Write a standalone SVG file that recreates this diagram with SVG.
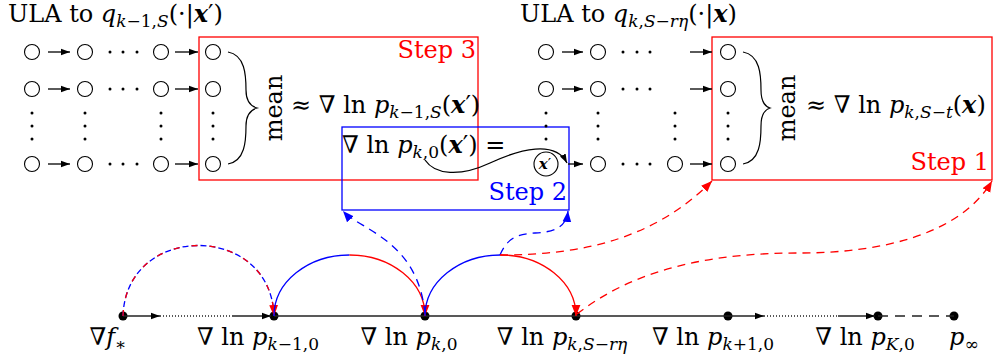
<svg xmlns="http://www.w3.org/2000/svg" width="997" height="360" viewBox="0 0 997 360">
<defs>
<style>
text{font-family:"DejaVu Serif","Liberation Serif",serif;font-size:24px;fill:#000}
.i{font-style:italic}
.b{font-style:italic;font-weight:bold}
.s{font-size:17px}
.nd{fill:#fff;stroke:#000;stroke-width:1.1}
.dt{fill:#000}
.ga{stroke:#000;stroke-width:1.3;fill:none;marker-end:url(#ak)}
.rt{fill:#f00}
.bt{fill:#00f}
.ax{stroke:#222;stroke-width:1.4;fill:none}
.rd{stroke:#f00;stroke-width:1.3;fill:none}
.bl{stroke:#00f;stroke-width:1.3;fill:none}
.dash{stroke-dasharray:8 6}
</style>
<marker id="ak" viewBox="0 0 10 10" refX="10" refY="5" markerWidth="9" markerHeight="9" markerUnits="userSpaceOnUse" orient="auto"><path d="M0,1.5 L10,5 L0,8.5 z" fill="#000"/></marker>
<marker id="ar" viewBox="0 0 10 10" refX="10" refY="5" markerWidth="11" markerHeight="11" markerUnits="userSpaceOnUse" orient="auto"><path d="M0,1 L10,5 L0,9 z" fill="#f00"/></marker>
<marker id="ab" viewBox="0 0 10 10" refX="10" refY="5" markerWidth="11" markerHeight="11" markerUnits="userSpaceOnUse" orient="auto"><path d="M0,1 L10,5 L0,9 z" fill="#00f"/></marker>
</defs>

<!-- Boxes -->
<g id="step3">
<rect x="199" y="37" width="279" height="143" fill="none" stroke="#f00" stroke-width="1.3"/>
<text x="476" y="58" text-anchor="end" class="rt">Step 3</text>
<text transform="translate(282,108) rotate(-90)" text-anchor="middle">mean</text>
<text x="291" y="113">≈ ∇ ln <tspan class="i">p</tspan><tspan class="s" dy="5"><tspan class="i">k</tspan>−1,<tspan class="i">S</tspan></tspan><tspan dy="-5">(</tspan><tspan class="b">x</tspan>′)</text>
<path d="M228,52 C245,55 246,75 246,90 C246,100 250,106 257,108 C250,110 246,116 246,126 C246,141 245,161 228,164" fill="none" stroke="#000" stroke-width="1.2"/>
</g>

<g id="step2">
<rect x="342" y="127" width="227" height="83" fill="none" stroke="#00f" stroke-width="1.3"/>
<text x="567" y="200" text-anchor="end" class="bt">Step 2</text>
<text x="342" y="153">∇ ln <tspan class="i">p</tspan><tspan class="s" dy="5"><tspan class="i">k</tspan>,0</tspan><tspan dy="-5">(</tspan><tspan class="b">x</tspan>′) =</text>
</g>

<g id="step1">
<rect x="712" y="37" width="280" height="143" fill="none" stroke="#f00" stroke-width="1.3"/>
<text x="989" y="170" text-anchor="end" class="rt">Step 1</text>
<text transform="translate(795,108) rotate(-90)" text-anchor="middle">mean</text>
<text x="806" y="113">≈ ∇ ln <tspan class="i">p</tspan><tspan class="s" dy="5"><tspan class="i">k</tspan>,<tspan class="i">S</tspan>−<tspan class="i">t</tspan></tspan><tspan dy="-5">(</tspan><tspan class="b">x</tspan>)</text>
<path d="M743,52 C760,55 761,75 761,90 C761,100 764,106 770,108 C764,110 761,116 761,126 C761,141 760,161 743,164" fill="none" stroke="#000" stroke-width="1.2"/>
</g>

<!-- Left ULA grid -->
<g id="grid-left">
<text x="8" y="22">ULA to <tspan class="i">q</tspan><tspan class="s" dy="5"><tspan class="i">k</tspan>−1,<tspan class="i">S</tspan></tspan><tspan dy="-5">(·|</tspan><tspan class="b">x</tspan>′)</text>
<g class="nd">
<circle cx="32" cy="52" r="7.5"/><circle cx="85" cy="52" r="7.5"/><circle cx="161" cy="52" r="7.5"/><circle cx="213" cy="52" r="7.5"/>
<circle cx="32" cy="89" r="7.5"/><circle cx="85" cy="89" r="7.5"/><circle cx="161" cy="89" r="7.5"/><circle cx="213" cy="89" r="7.5"/>
<circle cx="32" cy="164" r="7.5"/><circle cx="85" cy="164" r="7.5"/><circle cx="161" cy="164" r="7.5"/><circle cx="213" cy="164" r="7.5"/>
</g>
<g class="dt">
<circle cx="110" cy="52" r="1.5"/><circle cx="123" cy="52" r="1.5"/><circle cx="137" cy="52" r="1.5"/>
<circle cx="110" cy="89" r="1.5"/><circle cx="123" cy="89" r="1.5"/><circle cx="137" cy="89" r="1.5"/>
<circle cx="110" cy="164" r="1.5"/><circle cx="123" cy="164" r="1.5"/><circle cx="137" cy="164" r="1.5"/>
<circle cx="32" cy="113" r="1.5"/><circle cx="32" cy="126" r="1.5"/><circle cx="32" cy="139" r="1.5"/>
<circle cx="85" cy="113" r="1.5"/><circle cx="85" cy="126" r="1.5"/><circle cx="85" cy="139" r="1.5"/>
<circle cx="161" cy="113" r="1.5"/><circle cx="161" cy="126" r="1.5"/><circle cx="161" cy="139" r="1.5"/>
<circle cx="213" cy="113" r="1.5"/><circle cx="213" cy="126" r="1.5"/><circle cx="213" cy="139" r="1.5"/>
</g>
</g>

<!-- Right ULA grid -->
<g id="grid-right">
<text x="520" y="22">ULA to <tspan class="i">q</tspan><tspan class="s" dy="5"><tspan class="i">k</tspan>,<tspan class="i">S</tspan>−<tspan class="i">rη</tspan></tspan><tspan dy="-5">(·|</tspan><tspan class="b">x</tspan>)</text>
<g class="nd">
<circle cx="546" cy="52" r="7.5"/><circle cx="598" cy="52" r="7.5"/><circle cx="728" cy="52" r="7.5"/>
<circle cx="546" cy="89" r="7.5"/><circle cx="598" cy="89" r="7.5"/><circle cx="728" cy="89" r="7.5"/>
<circle cx="546" cy="164" r="12"/><circle cx="598" cy="164" r="7.5"/><circle cx="675" cy="164" r="7.5"/><circle cx="728" cy="164" r="7.5"/>
</g>
<text x="545" y="169" text-anchor="middle" style="font-size:15px"><tspan class="b">x</tspan>′</text>
<g class="dt">
<circle cx="623" cy="52" r="1.5"/><circle cx="637" cy="52" r="1.5"/><circle cx="650" cy="52" r="1.5"/>
<circle cx="623" cy="89" r="1.5"/><circle cx="637" cy="89" r="1.5"/><circle cx="650" cy="89" r="1.5"/>
<circle cx="623" cy="164" r="1.5"/><circle cx="637" cy="164" r="1.5"/><circle cx="650" cy="164" r="1.5"/>
<circle cx="546" cy="113" r="1.5"/><circle cx="546" cy="126" r="1.5"/><circle cx="546" cy="139" r="1.5"/>
<circle cx="598" cy="113" r="1.5"/><circle cx="598" cy="126" r="1.5"/><circle cx="598" cy="139" r="1.5"/>
<circle cx="675" cy="113" r="1.5"/><circle cx="675" cy="126" r="1.5"/><circle cx="675" cy="139" r="1.5"/>
<circle cx="728" cy="113" r="1.5"/><circle cx="728" cy="126" r="1.5"/><circle cx="728" cy="139" r="1.5"/>
</g>
</g>

<!-- Axis nodes -->
<g id="n-fstar"><circle cx="123" cy="316" r="4.5" class="dt"/><text x="108" y="345" text-anchor="middle">∇<tspan class="i">f</tspan><tspan class="s" dy="5">∗</tspan></text></g>
<g id="n-km1"><circle cx="274" cy="316" r="4.5" class="dt"/><text x="258" y="345" text-anchor="middle">∇ ln <tspan class="i">p</tspan><tspan class="s" dy="5"><tspan class="i">k</tspan>−1,0</tspan></text></g>
<g id="n-k0"><circle cx="425" cy="316" r="4.5" class="dt"/><text x="409" y="345" text-anchor="middle">∇ ln <tspan class="i">p</tspan><tspan class="s" dy="5"><tspan class="i">k</tspan>,0</tspan></text></g>
<g id="n-kS"><circle cx="576" cy="316" r="4.5" class="dt"/><text x="562" y="345" text-anchor="middle">∇ ln <tspan class="i">p</tspan><tspan class="s" dy="5"><tspan class="i">k</tspan>,<tspan class="i">S</tspan>−<tspan class="i">rη</tspan></tspan></text></g>
<g id="n-kp1"><circle cx="728" cy="316" r="4.5" class="dt"/><text x="713" y="345" text-anchor="middle">∇ ln <tspan class="i">p</tspan><tspan class="s" dy="5"><tspan class="i">k</tspan>+1,0</tspan></text></g>
<g id="n-K0"><circle cx="878" cy="316" r="4.5" class="dt"/><text x="865" y="345" text-anchor="middle">∇ ln <tspan class="i">p</tspan><tspan class="s" dy="5"><tspan class="i">K</tspan>,0</tspan></text></g>
<g id="n-inf"><circle cx="954" cy="316" r="4.5" class="dt"/><text x="949" y="345"><tspan class="i">p</tspan><tspan class="s" dy="5">∞</tspan></text></g>

<!-- Connectors -->
<g id="connectors">
<path class="ax" d="M123,316 H160" marker-end="url(#ak)"/>
<path class="ax" d="M160,316 H233" stroke-dasharray="1 2" stroke-width="1"/>
<path class="ax" d="M233,316 H271" marker-end="url(#ak)"/>
<path class="ax" d="M274,316 H728"/>
<path class="ax" d="M728,316 H764" marker-end="url(#ak)"/>
<path class="ax" d="M764,316 H838" stroke-dasharray="1 2" stroke-width="1"/>
<path class="ax" d="M838,316 H875" marker-end="url(#ak)"/>
<path class="ax" d="M878,316 H954" stroke-dasharray="10 7"/>

<path class="ga" d="M48,52 H70"/><path class="ga" d="M175,52 H198"/>
<path class="ga" d="M48,89 H70"/><path class="ga" d="M175,89 H198"/>
<path class="ga" d="M48,164 H70"/><path class="ga" d="M175,164 H198"/>
<path class="ga" d="M562,52 H583"/><path class="ga" d="M690,52 H712"/>
<path class="ga" d="M562,89 H583"/><path class="ga" d="M690,89 H712"/>
<path class="ga" d="M568,164 H583"/><path class="ga" d="M690,164 H712"/>

<path d="M425,160 C435,175 460,177 490,163 S555,140 567,163" fill="none" stroke="#000" stroke-width="1.3" marker-end="url(#ak)"/>

<path class="bl" d="M123,316 C126,222 271,222 274,316" stroke-dasharray="6 3"/>
<path class="rd" d="M123,316 C126,222 271,222 274,316" stroke-dasharray="6 12" marker-end="url(#ar)"/>
<path class="bl" d="M274,316 A75.5,61 0 0 1 349.5,255"/>
<path class="rd" d="M349.5,255 A75.5,61 0 0 1 425,316" marker-end="url(#ar)"/>
<path class="bl" d="M425,316 A75.5,61 0 0 1 500.5,255"/>
<path class="rd" d="M500.5,255 A75.5,61 0 0 1 576,316" marker-end="url(#ar)"/>

<path class="bl dash" d="M425,314 C418,240 360,230 343,211" marker-end="url(#ab)"/>
<path class="bl dash" d="M500,255 C508,236 520,234 535,233 S566,230 568,211" marker-end="url(#ab)"/>
<path class="rd dash" d="M500,255 C585,255 655,238 712,181" marker-end="url(#ar)"/>
<path class="rd dash" d="M577,314 C640,265 720,253 800,253 S960,235 992,181" marker-end="url(#ar)"/>
</g>
</svg>
